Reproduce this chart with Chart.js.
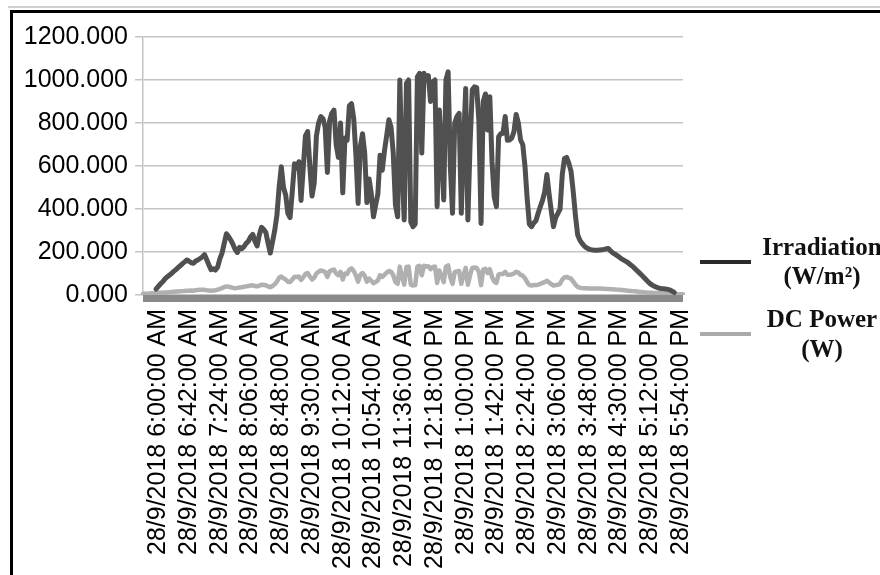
<!DOCTYPE html>
<html>
<head>
<meta charset="utf-8">
<script src="https://cdn.jsdelivr.net/npm/chart.js@4.4.0/dist/chart.umd.min.js"></script>
<style>
  html,body{margin:0;padding:0;background:#fff;overflow:hidden;}
  #chart{display:block;}
</style>
</head>
<body>
<canvas id="chart" width="880" height="575"></canvas>
<script>
//first sample time (minutes after midnight) and sample step in minutes
var startMinute=5*60+39;
var stepMinutes=3;

//tick labels shown under the axis, every 42 minutes
var tickLabels=["28/9/2018 6:00:00 AM","28/9/2018 6:42:00 AM","28/9/2018 7:24:00 AM","28/9/2018 8:06:00 AM",
  "28/9/2018 8:48:00 AM","28/9/2018 9:30:00 AM","28/9/2018 10:12:00 AM","28/9/2018 10:54:00 AM",
  "28/9/2018 11:36:00 AM","28/9/2018 12:18:00 PM","28/9/2018 1:00:00 PM","28/9/2018 1:42:00 PM",
  "28/9/2018 2:24:00 PM","28/9/2018 3:06:00 PM","28/9/2018 3:48:00 PM","28/9/2018 4:30:00 PM",
  "28/9/2018 5:12:00 PM","28/9/2018 5:54:00 PM"];
var firstTickIndex=7;
var tickEvery=14;

//legend names (two lines each)
var seriesNames=[["Irradiation","(W/m\u00b2)"],["DC Power","(W)"]];

//irradiation in W/m2, one value every 3 minutes from 5:39 AM
var irradiation=[null,null,null,null,null,null,28,40,52,62,
  75,84,92,100,110,118,128,136,146,154,
  163,157,150,148,158,163,170,177,188,165,
  140,118,122,116,130,168,195,240,285,272,
  255,235,212,198,222,215,225,240,250,270,
  282,250,228,280,315,305,290,240,195,248,
  300,370,500,597,500,465,380,360,480,610,
  590,620,440,590,740,760,600,460,520,740,
  800,830,820,780,570,810,845,860,700,640,
  800,475,730,720,880,890,820,650,426,690,
  750,660,430,540,470,364,420,470,650,580,
  670,740,815,780,660,420,364,1000,600,349,
  984,1000,340,318,330,1015,1031,660,1031,1000,
  1020,900,990,1000,411,860,650,442,1000,1038,
  600,380,800,830,845,380,700,960,349,700,
  955,968,965,813,333,900,935,767,922,620,
  457,411,736,750,752,830,720,721,730,760,
  840,800,721,700,600,450,330,318,335,345,
  380,411,440,480,560,470,390,318,360,380,
  400,560,635,640,612,575,480,370,280,255,
  240,228,220,214,211,209,208,208,209,210,
  212,215,216,205,196,190,183,176,168,162,
  156,150,141,134,124,114,104,94,84,73,
  62,53,46,40,36,32,30,29,28,26,
  24,18,12,null,null,null,null];

//DC power in W, same time steps
var dcPower=[5,6,6,7,8,8,9,10,10,11,
  12,12,13,14,15,16,16,17,18,19,
  20,20,21,20,22,23,24,25,24,22,
  21,20,21,22,25,28,32,37,40,38,
  36,33,31,33,35,36,38,40,42,44,
  45,42,40,44,48,47,45,40,36,42,
  50,62,80,86,78,72,62,60,72,85,
  84,86,70,82,98,102,86,72,80,100,
  108,114,112,106,84,110,115,118,100,92,
  108,72,100,98,118,124,112,90,62,94,
  102,90,62,76,66,55,60,68,92,84,
  94,104,112,108,92,60,52,132,84,48,
  130,132,48,44,46,132,136,92,136,132,
  134,120,130,132,56,114,88,60,132,138,
  82,52,106,110,112,52,92,126,48,92,
  126,128,126,108,46,118,122,102,120,84,
  62,56,96,98,98,108,94,94,96,100,
  108,104,94,90,78,60,46,44,46,46,
  48,52,56,60,66,58,50,44,46,48,
  52,72,82,84,80,76,62,48,38,34,
  32,31,31,30,30,30,30,30,30,29,
  29,28,28,27,27,26,25,24,23,22,
  21,20,19,18,17,16,15,14,13,12,
  11,10,10,9,9,8,8,7,7,6,
  6,5,5,4,4,3,3];

var lineColors=["#505050","#b0b0b0"];
var legendColors=["#2a2a2a","#aaaaaa"];

//build the time categories for each sample
function timeLabel(m){
    var h24=Math.floor(m/60);
    var mm=m%60;
    var ap=h24>=12?"PM":"AM";
    var h=h24%12;
    if(h==0){h=12;}
    return "28/9/2018 "+h+":"+(mm<10?"0":"")+mm+":00 "+ap;
}
var times=[];
for(var i=0;i<dcPower.length;i++){
    times.push(timeLabel(startMinute+i*stepMinutes));
}

//white page with the black frame around the figure
var framePlugin={
    id:"frame",
    beforeDraw:function(chart){
        var ctx=chart.ctx;
        ctx.save();
        ctx.fillStyle="#fff";
        ctx.fillRect(0,0,chart.width,chart.height);
        ctx.strokeStyle="#d0d0d0";
        ctx.lineWidth=2;
        ctx.beginPath();
        ctx.moveTo(8,7);ctx.lineTo(chart.width,7);
        ctx.stroke();
        ctx.strokeStyle="#000";
        ctx.lineWidth=3;
        ctx.beginPath();
        ctx.moveTo(11.5,chart.height+5);
        ctx.lineTo(11.5,11.5);
        ctx.lineTo(chart.width+5,11.5);
        ctx.stroke();
        ctx.restore();
    }
};

//thick grey category axis bar just under the zero line
var axisBarPlugin={
    id:"axisBar",
    beforeDatasetsDraw:function(chart){
        var ctx=chart.ctx;
        var area=chart.chartArea;
        ctx.save();
        ctx.fillStyle="#8a8a8a";
        ctx.fillRect(area.left,area.bottom,area.right-area.left,7);
        ctx.restore();
    }
};

//legend on the right with names on two lines
var legendPlugin={
    id:"sideLegend",
    afterDraw:function(chart){
        var ctx=chart.ctx;
        var rows=[{lineY:262,textY:[255,284]},{lineY:334,textY:[327,357]}];
        ctx.save();
        for(var k=0;k<seriesNames.length;k++){
            ctx.strokeStyle=legendColors[k];
            ctx.lineWidth=4;
            ctx.beginPath();
            ctx.moveTo(700,rows[k].lineY);
            ctx.lineTo(751,rows[k].lineY);
            ctx.stroke();
            ctx.fillStyle="#111";
            ctx.font="bold 25px 'Liberation Serif'";
            ctx.textAlign="center";
            ctx.textBaseline="alphabetic";
            for(var j=0;j<seriesNames[k].length;j++){
                ctx.fillText(seriesNames[k][j],822,rows[k].textY[j]);
            }
        }
        ctx.restore();
    }
};

var plot=new Chart(document.getElementById("chart"),{
    type:"line",
    data:{
        labels:times,
        datasets:[{
            label:seriesNames[0].join(" "),
            data:irradiation,
            borderColor:lineColors[0],
            borderWidth:5,
            pointRadius:0,
            borderJoinStyle:"round",
            borderCapStyle:"round",
            tension:0
        },{
            label:seriesNames[1].join(" "),
            data:dcPower,
            borderColor:lineColors[1],
            borderWidth:4.5,
            pointRadius:0,
            borderJoinStyle:"round",
            borderCapStyle:"round",
            tension:0
        }]
    },
    options:{
        responsive:false,
        animation:false,
        devicePixelRatio:1,
        layout:{padding:{left:0,right:197,top:37,bottom:0}},
        plugins:{legend:{display:false},tooltip:{enabled:false}},
        scales:{
            x:{
                grid:{display:false,drawTicks:false},
                border:{display:false},
                ticks:{
                    autoSkip:false,
                    maxRotation:90,
                    minRotation:90,
                    padding:14,
                    color:"#000",
                    font:{family:"'Liberation Sans'",size:25},
                    callback:function(val,index){
                        var n=index-firstTickIndex;
                        if(n>=0 && n%tickEvery==0){return tickLabels[n/tickEvery];}
                        return null;
                    }
                },
                afterFit:function(s){s.height=280;}
            },
            y:{
                min:0,
                max:1200,
                grid:{color:"#c4c4c4",lineWidth:1.5,tickLength:8},
                border:{display:true,color:"#c4c4c4",width:1.5},
                ticks:{
                    stepSize:200,
                    padding:7,
                    color:"#000",
                    font:{family:"'Liberation Sans'",size:25},
                    callback:function(v){return v.toFixed(3);}
                },
                afterFit:function(s){s.width=143;}
            }
        }
    },
    plugins:[framePlugin,axisBarPlugin,legendPlugin]
});
</script>
</body>
</html>
